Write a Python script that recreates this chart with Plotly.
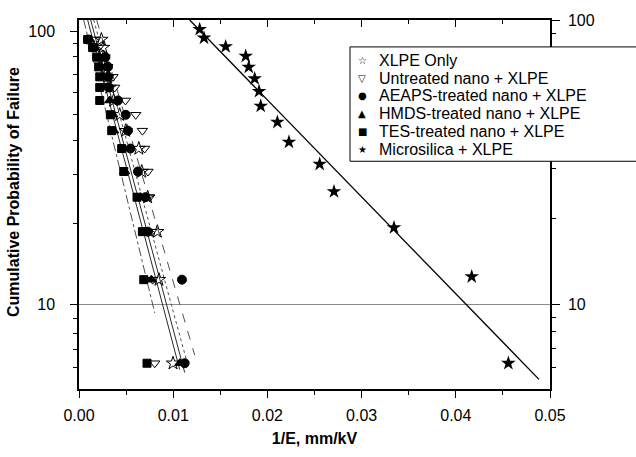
import plotly.graph_objects as go

# ---------------- data ----------------
# cumulative probability levels (%) of the nano-composite rows, top to bottom
P_NANO = [85.4, 80.0, 74.0, 68.4, 63.1, 57.9, 52.1, 46.4, 40.8, 35.3, 29.3, 23.8, 18.0, 12.2, 6.2]

X_XLPE = [0.00238, 0.00255, 0.00262, 0.00283, 0.00305, 0.00326, 0.00368, 0.00432,
          0.00496, 0.00635, 0.00666, 0.00729, 0.00832, 0.00849, 0.00998]
X_UNTREATED = [0.00177, 0.00209, 0.00252, 0.00305, 0.00361, 0.00379, 0.00493, 0.00602,
               0.00673, 0.00697, 0.00732, 0.00750, 0.00772, 0.00782, 0.00804]
X_AEAPS = [0.00096, 0.00149, 0.00280, 0.00308, 0.00310, 0.00318, 0.00414, 0.00496,
           0.00520, 0.00546, 0.00626, 0.00705, 0.00732, 0.01093, 0.01122]
X_HMDS = [0.00114, 0.00166, 0.00209, 0.00241, 0.00262, 0.00284, 0.00326, 0.00358,
          0.00368, 0.00467, 0.00485, 0.00655, 0.00719, 0.00769, 0.01070]
X_TES = [0.00092, 0.00145, 0.00188, 0.00209, 0.00220, 0.00220, 0.00220, 0.00333,
         0.00347, 0.00453, 0.00475, 0.00616, 0.00673, 0.00687, 0.00722]

X_MICRO = [0.01281, 0.01327, 0.01557, 0.01770, 0.01802, 0.01865, 0.01911, 0.01929,
           0.02106, 0.02229, 0.02555, 0.02707, 0.03344, 0.04169, 0.04558]
P_MICRO = [92.7, 86.5, 80.6, 74.6, 68.3, 62.2, 56.1, 49.8, 43.7, 37.2, 31.1, 24.9, 18.6, 12.5, 6.2]

# fitted lines: (dash, [x start, x end], [P start, P end])
FIT_LINES = [
    ("dashdot", [0.00050, 0.00804], [100, 9.32]),
    ("solid",   [0.00092, 0.01069], [100, 5.89]),
    ("solid",   [0.00124, 0.01122], [100, 5.75]),
    ("dot",     [0.00156, 0.01154], [100, 6.13]),
    ("dash",    [0.00188, 0.01228], [100, 6.62]),
]
FIT_MICRO_X = [0.01175, 0.04883]
FIT_MICRO_P = [100, 5.44]

SERIES_NAMES = ["XLPE Only", "Untreated nano + XLPE", "AEAPS-treated nano + XLPE",
                "HMDS-treated nano + XLPE", "TES-treated nano + XLPE", "Microsilica + XLPE"]
SERIES_X = [X_XLPE, X_UNTREATED, X_AEAPS, X_HMDS, X_TES]
SERIES_SYMBOLS = ["star-open", "triangle-down-open", "circle", "triangle-up", "square"]
SERIES_SIZES = [10, 9, 9, 9, 8]
LEGEND_GLYPHS = ["☆", "▽", "●", "▲", "■", "★"]

X_TICKS = [0.00, 0.01, 0.02, 0.03, 0.04, 0.05]
X_TICK_TEXT = ["0.00", "0.01", "0.02", "0.03", "0.04", "0.05"]
X_MINOR = [0.005, 0.015, 0.025, 0.035, 0.045]

LEFT_MAJOR = [91.0, 10]
LEFT_MAJOR_TEXT = ["100", "10"]
LEFT_MINOR = [82.5, 74.4, 64.1, 55.7, 46.6, 37.8, 28.5, 19.2, 8.9, 7.9, 6.95, 5.98]

RIGHT_MAJOR = [100, 10]
RIGHT_MAJOR_TEXT = ["100", "10"]
RIGHT_MINOR = [90, 80, 70, 60, 50, 40, 30, 20, 9, 8, 7, 6, 5]

Y_RANGE = [0.7017, 2.0]
X_RANGE = [0.0, 0.05]

FONT = "Liberation Sans, Arial, sans-serif"

# plot-area geometry in pixels (for converting legend placement to paper coords)
W, H = 636, 457
ML, MR, MT, MB = 79, 86, 13, 60
PW, PH = W - ML - MR, H - MT - MB


def px_x(px):
    return (px - ML) / PW


def px_y(py):
    return (H - MB - py) / PH


fig = go.Figure()

for dash, xs, ps in FIT_LINES:
    fig.add_trace(go.Scatter(x=xs, y=ps, mode="lines", showlegend=False, hoverinfo="skip",
                             line=dict(color="#2a2a2a" if dash == "solid" else "#505050",
                                       width=1, dash=dash)))
fig.add_trace(go.Scatter(x=FIT_MICRO_X, y=FIT_MICRO_P, mode="lines", showlegend=False,
                         hoverinfo="skip", line=dict(color="black", width=1.3)))

for name, xs, sym, size in zip(SERIES_NAMES, SERIES_X, SERIES_SYMBOLS, SERIES_SIZES):
    fig.add_trace(go.Scatter(x=xs, y=P_NANO, mode="markers", name=name, showlegend=False,
                             marker=dict(symbol=sym, size=size, color="black",
                                         line=dict(color="black", width=1))))
fig.add_trace(go.Scatter(x=X_MICRO, y=P_MICRO, mode="markers", name=SERIES_NAMES[5],
                         showlegend=False,
                         marker=dict(symbol="star", size=11, color="black",
                                     line=dict(color="black", width=0))))

# invisible helper trace so the mirrored axes are drawn
fig.add_trace(go.Scatter(x=[X_MICRO[0]], y=[P_MICRO[0]], xaxis="x2", yaxis="y2",
                         mode="markers", marker=dict(opacity=0), showlegend=False,
                         hoverinfo="skip"))

tickfont = dict(family=FONT, size=16, color="black")

# legend drawn as a boxed list (box overlaps the right-hand axis as in the original)
LEG_LEFT, LEG_TOP, LEG_BOTTOM = 350, 41, 160
LEG_ROWS = [55, 73.5, 92, 110.5, 129, 147.5]
annotations = []
for glyph, name, yc in zip(LEGEND_GLYPHS, SERIES_NAMES, LEG_ROWS):
    annotations.append(dict(text=glyph, xref="paper", yref="paper", x=px_x(362), y=px_y(yc),
                            xanchor="center", yanchor="middle", showarrow=False, borderpad=0,
                            font=dict(family="DejaVu Sans", size=10, color="black")))
    annotations.append(dict(text=name, xref="paper", yref="paper", x=px_x(378), y=px_y(yc),
                            xanchor="left", yanchor="middle", showarrow=False, borderpad=0,
                            font=dict(family=FONT, size=16, color="black")))

annotations.append(dict(text="<b>Cumulative Probability of Failure</b>", textangle=-90,
                        xref="paper", yref="paper", x=px_x(13), y=px_y(192),
                        xanchor="center", yanchor="middle", showarrow=False,
                        font=dict(family=FONT, size=16, color="black")))

fig.update_layout(
    width=W, height=H,
    margin=dict(l=ML, r=MR, t=MT, b=MB, pad=0),
    paper_bgcolor="white", plot_bgcolor="white",
    font=dict(family=FONT, color="black"),
    showlegend=False,
    xaxis=dict(range=X_RANGE, tickmode="array", tickvals=X_TICKS, ticktext=X_TICK_TEXT,
               ticks="outside", ticklen=7, tickwidth=1.2, tickcolor="black",
               showline=True, linecolor="black", linewidth=1.5, showgrid=False,
               zeroline=False, tickfont=tickfont, ticklabelstandoff=4,
               minor=dict(tickmode="array", tickvals=X_MINOR, ticks="outside", ticklen=4,
                          tickwidth=1.2, tickcolor="black", showgrid=False),
               title=dict(text="<b>1/E, mm/kV</b>", font=dict(family=FONT, size=16),
                          standoff=10)),
    xaxis2=dict(range=X_RANGE, overlaying="x", side="top", anchor="y", matches="x",
                tickmode="array", tickvals=X_TICKS, showticklabels=False,
                ticks="inside", ticklen=7, tickwidth=1.2, tickcolor="black",
                showline=True, linecolor="black", linewidth=1.5, showgrid=False,
                zeroline=False,
                minor=dict(tickmode="array", tickvals=X_MINOR, ticks="inside", ticklen=4,
                           tickwidth=1.2, tickcolor="black", showgrid=False)),
    yaxis=dict(type="log", range=Y_RANGE, tickmode="array", tickvals=LEFT_MAJOR,
               ticktext=LEFT_MAJOR_TEXT, ticks="outside", ticklen=7, tickwidth=1.2,
               tickcolor="black", showline=True, linecolor="black", linewidth=1.5,
               showgrid=False, zeroline=False, tickfont=tickfont, ticklabelstandoff=12,
               minor=dict(tickmode="array", tickvals=LEFT_MINOR, ticks="outside", ticklen=4,
                          tickwidth=1.2, tickcolor="black", showgrid=False)),
    yaxis2=dict(type="log", range=Y_RANGE, overlaying="y", side="right", anchor="x",
                tickmode="array", tickvals=RIGHT_MAJOR, ticktext=RIGHT_MAJOR_TEXT,
                ticks="outside", ticklen=8, tickwidth=1.2, tickcolor="black",
                showline=True, linecolor="black", linewidth=1.5,
                showgrid=True, gridcolor="#8a8a8a", gridwidth=1, zeroline=False,
                tickfont=tickfont, ticklabelstandoff=5,
                minor=dict(tickmode="array", tickvals=RIGHT_MINOR, ticks="outside",
                           ticklen=4.5, tickwidth=1.2, tickcolor="black", showgrid=False)),
    shapes=[dict(type="rect", xref="paper", yref="paper", layer="above",
                 x0=px_x(LEG_LEFT), x1=px_x(W + 5), y0=px_y(LEG_BOTTOM), y1=px_y(LEG_TOP),
                 fillcolor="white", line=dict(color="black", width=1))],
    annotations=annotations,
)

fig.write_html("out.html")
